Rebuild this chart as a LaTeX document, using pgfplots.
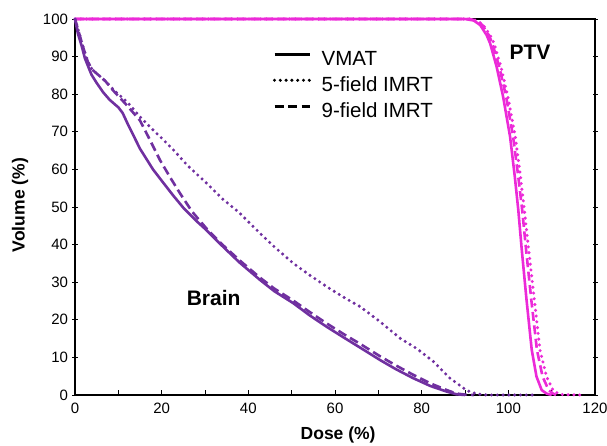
\documentclass[border=0pt]{standalone}
\usepackage{fontspec}
\setmainfont{Liberation Sans}
\usepackage{pgfplots}
\pgfplotsset{compat=1.18}

\definecolor{brain}{RGB}{112,48,160}
\definecolor{ptv}{RGB}{236,42,216}

\tikzset{
  solidc/.style={line width=2.6bp},
  dotc/.style={line width=3.4bp, line cap=round, dash pattern=on 0bp off 5.8bp},
  dashc/.style={line width=2.6bp, dash pattern=on 9bp off 4.5bp},
}

% brain DVH
\pgfplotstableread{
x y
0 100
0.7 96
1.5 93
2.3 89.5
3.8 85.2
5 83
6.5 80.5
8 78.5
10 76.5
11 75
12 72.5
15 65.5
18 60
20 57
22.7 53
25 49.8
28 46.3
30 44.2
34.2 39.4
38 35.2
42.7 30.6
46 27.6
50.4 24.4
54 21.3
58 18.2
62 15.3
65.8 12.6
70.4 9.3
74 6.9
78 4.5
82 2.4
85.8 0.9
88 0.2
90 0
}\brainvmat
\pgfplotstableread{
x y
0 100
1 96
2 92
3 88.5
4 86.5
5.5 85
7 83.5
8.8 81
10 79.5
12 77
15 73
17 68.5
19.6 62.5
22 57.8
24.2 53.7
27 48.8
30.4 44.2
34.2 39.8
38 35.8
42.7 31.2
46 28.3
50.4 25.1
54 22.2
58 19.1
62 16.2
65.8 13.6
70.4 10.3
74 7.9
78 5.4
82 3.1
85.8 1.3
88 0.4
90 0.1
92 0
}\brainnine
\pgfplotstableread{
x y
0 100
1 96
2 92
3 88.5
4 86.5
5.5 85
7 83.5
8.8 81.3
10 80
12 78
15 74
18 70.5
20 68.3
22.7 65.2
26 61
30.4 56.3
34 52.2
38 48.4
42.7 43
46 39.4
50.4 35
54 32
58.1 28.8
62 26
65.8 23.5
70.4 19.5
75 15.1
78.8 12.4
82.7 8.9
86.5 4.5
90.4 1.2
92.7 0.3
95 0
106 0
}\brainfive

% PTV DVH
\pgfplotstableread{
x y
0 100
90 100
92 99.6
93.5 98.4
95 95.7
95.8 93.5
97.3 87.3
98.8 79.3
100.4 68.7
101.5 58
102.3 49.2
103.1 38.6
104.2 25.3
105.4 12
106.5 4.9
107.7 1.3
108.8 0.4
110 0
}\ptvvmat
\pgfplotstableread{
x y
0 100
91 100
92.6 99.6
94 98.4
95.5 95.7
96.3 93.5
97.9 87.3
99.5 79.3
101.1 68.7
102.3 58
103.2 49.2
104.1 38.6
105.3 25.3
106.6 12
107.9 4.9
109.3 1.3
110.3 0.4
111 0
}\ptvnine
\pgfplotstableread{
x y
0 100
91 100
92.8 99.6
94.2 98.4
95.8 95.7
96.7 93.5
98.3 87.3
99.9 79.3
101.6 68.7
102.8 58
103.7 49.2
104.7 38.6
106 25.3
107.3 12
108.8 4.9
110.3 1.3
111.5 0.4
112.5 0.1
117 0
}\ptvfive

\begin{document}
\begin{tikzpicture}
\begin{axis}[
    scale only axis,
    width=520bp, height=376bp,
    xmin=0, xmax=120, ymin=0, ymax=100,
    xtick={0,20,...,120}, minor x tick num=1,
    ytick={0,10,...,100},
    xtick pos=bottom, ytick pos=both,
    yticklabel pos=left,
    major tick length=5bp, minor tick length=5bp,
    tick style={black, line width=0.8bp},
    xtick align=inside, ytick align=center,
    axis line style={black, line width=1.4bp},
    tick label style={font=\fontsize{15bp}{17bp}\selectfont},
    xticklabel style={yshift=-5bp},
    yticklabel style={xshift=-1bp},
    /pgf/number format/assume math mode=true,
    xlabel={Dose (\%)}, ylabel={Volume (\%)},
    every axis x label/.style={at={(rel axis cs:0.506,0)}, anchor=center, yshift=-40bp,
      font=\fontsize{17.5bp}{20bp}\selectfont\bfseries},
    every axis y label/.style={at={(rel axis cs:0,0.505)}, anchor=center, xshift=-55bp, rotate=90,
      font=\fontsize{17.5bp}{20bp}\selectfont\bfseries},
    legend style={draw=none, fill=none, at={(axis cs:45.6,92.0)}, anchor=north west,
      font=\fontsize{20.5bp}{23bp}\selectfont, row sep=4bp, inner sep=0pt,
      nodes={text height=15bp, text depth=4bp, inner sep=1.5bp},
      /tikz/every odd column/.append style={column sep=9bp}},
    legend cell align=left,
    legend image code/.code={\draw[#1] (0bp,6bp) -- (35bp,6bp);},
    clip=false,
]
\addlegendimage{black, solidc}
\addlegendentry{VMAT}
\addlegendimage{black, dotc}
\addlegendentry{5-field IMRT}
\addlegendimage{black, dashc}
\addlegendentry{9-field IMRT}

\addplot[ptv, solidc] table[x=x, y=y] {\ptvvmat};
\addplot[ptv, dashc] table[x=x, y=y] {\ptvnine};
\addplot[ptv, dotc] table[x=x, y=y] {\ptvfive};

\addplot[brain, solidc] table[x=x, y=y] {\brainvmat};
\addplot[brain, dashc] table[x=x, y=y] {\brainnine};
\addplot[brain, dotc] table[x=x, y=y] {\brainfive};

\node[font=\fontsize{21bp}{24bp}\selectfont\bfseries] at (axis cs:105,91.1) {PTV};
\node[font=\fontsize{21bp}{24bp}\selectfont\bfseries] at (axis cs:32,25.9) {Brain};

\coordinate (sw) at (rel axis cs:0,0);
\coordinate (ne) at (rel axis cs:1,1);
\end{axis}
\pgfresetboundingbox
\path ([shift={(-75bp,-51bp)}]sw) rectangle ([shift={(12bp,19bp)}]ne);
\end{tikzpicture}
\end{document}
